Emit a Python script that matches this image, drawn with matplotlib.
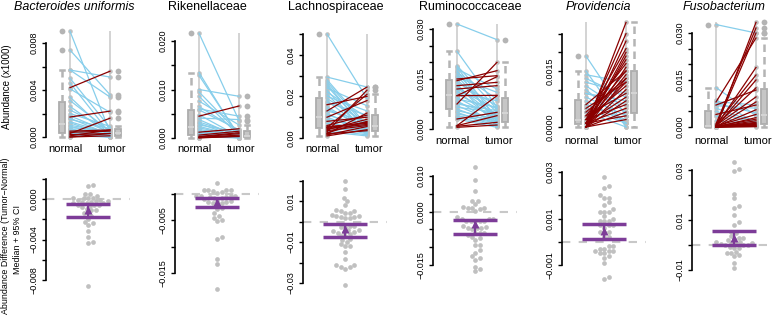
import numpy as np
import matplotlib
matplotlib.use('Agg')
import matplotlib.pyplot as plt

plt.rcParams['font.family'] = ['Liberation Sans', 'DejaVu Sans']

W, H = 774, 317

titles = ['Bacteroides uniformis', 'Rikenellaceae', 'Lachnospiraceae',
          'Ruminococcaceae', 'Providencia', 'Fusobacterium']
title_italic = [True, False, False, False, True, True]

# paired relative abundances, same patient at the same index
bu_normal = [0.0090, 0.0074, 0.0057, 0.0057, 0.0050, 0.0046, 0.0041, 0.0034, 0.0031, 0.0026,
             0.0023, 0.0020, 0.0018, 0.0016, 0.0015, 0.0013, 0.0012, 0.0010, 0.0009, 0.0008,
             0.0007, 0.0006, 0.0005, 0.0004, 0.0003, 0.0003, 0.0002, 0.0002, 0.0001,
             0.0042, 0.0017, 0.0003, 0.0005, 0.0001, 0.0000, 0.0002, 0.0000, 0.0004]
bu_tumor = [0.0004, 0.0036, 0.0034, 0.0051, 0.0008, 0.0003, 0.0021, 0.0002, 0.0005, 0.0002,
            0.0006, 0.0009, 0.0004, 0.0002, 0.0007, 0.0003, 0.0001, 0.0004, 0.0002, 0.0005,
            0.0001, 0.0002, 0.0001, 0.0000, 0.0001, 0.0000, 0.0001, 0.0000, 0.0000,
            0.0056, 0.0022, 0.0016, 0.0006, 0.0006, 0.0003, 0.0003, 0.0001, 0.0005]

rik_normal = [0.0216, 0.0135, 0.0129, 0.0100, 0.0095, 0.0086, 0.0076, 0.0065, 0.0060, 0.0058,
              0.0048, 0.0041, 0.0038, 0.0033, 0.0030, 0.0027, 0.0024, 0.0021, 0.0018, 0.0015,
              0.0013, 0.0011, 0.0009, 0.0008, 0.0006, 0.0005, 0.0004, 0.0003,
              0.0045, 0.0012, 0.0006, 0.0003, 0.0002, 0.0001, 0.0000, 0.0001]
rik_tumor = [0.0036, 0.0002, 0.0005, 0.0086, 0.0010, 0.0005, 0.0027, 0.0014, 0.0045, 0.0017,
             0.0003, 0.0038, 0.0002, 0.0006, 0.0001, 0.0012, 0.0003, 0.0004, 0.0001, 0.0002,
             0.0007, 0.0001, 0.0002, 0.0000, 0.0001, 0.0002, 0.0001, 0.0000,
             0.0066, 0.0019, 0.0014, 0.0011, 0.0009, 0.0006, 0.0004, 0.0003]

lach_normal = [0.0500, 0.0293, 0.0280, 0.0270, 0.0260, 0.0250, 0.0240, 0.0230, 0.0220, 0.0210,
               0.0200, 0.0190, 0.0180, 0.0170, 0.0150, 0.0140, 0.0130, 0.0120, 0.0110, 0.0100,
               0.0090, 0.0080, 0.0070, 0.0060, 0.0050, 0.0040, 0.0030,
               0.0030, 0.0050, 0.0130, 0.0100, 0.0160, 0.0020, 0.0060, 0.0040, 0.0025, 0.0050,
               0.0035, 0.0015, 0.0010, 0.0045, 0.0020, 0.0080, 0.0055]
lach_tumor = [0.0190, 0.0245, 0.0060, 0.0050, 0.0030, 0.0040, 0.0155, 0.0020, 0.0100, 0.0025,
              0.0130, 0.0070, 0.0030, 0.0110, 0.0040, 0.0050, 0.0080, 0.0020, 0.0060, 0.0030,
              0.0050, 0.0025, 0.0045, 0.0020, 0.0030, 0.0015, 0.0010,
              0.0230, 0.0210, 0.0245, 0.0180, 0.0200, 0.0120, 0.0110, 0.0090, 0.0080, 0.0075,
              0.0060, 0.0055, 0.0040, 0.0065, 0.0035, 0.0100, 0.0070]

rum_normal = [0.0315, 0.0233, 0.0190, 0.0185, 0.0180, 0.0175, 0.0170, 0.0165, 0.0160, 0.0155,
              0.0148, 0.0140, 0.0135, 0.0128, 0.0120, 0.0115, 0.0110, 0.0105, 0.0095, 0.0090,
              0.0085, 0.0080, 0.0075, 0.0070, 0.0065, 0.0060, 0.0055, 0.0050, 0.0045, 0.0040,
              0.0035, 0.0030,
              0.0075, 0.0010, 0.0100, 0.0150, 0.0145, 0.0130, 0.0120, 0.0100, 0.0030, 0.0010,
              0.0008, 0.0005]
rum_tumor = [0.0268, 0.0066, 0.0060, 0.0030, 0.0120, 0.0015, 0.0090, 0.0050, 0.0025, 0.0110,
             0.0040, 0.0070, 0.0010, 0.0035, 0.0060, 0.0020, 0.0085, 0.0045, 0.0030, 0.0065,
             0.0012, 0.0040, 0.0055, 0.0020, 0.0050, 0.0015, 0.0030, 0.0008, 0.0025, 0.0018,
             0.0010, 0.0005,
             0.0200, 0.0100, 0.0157, 0.0160, 0.0175, 0.0140, 0.0130, 0.0101, 0.0050, 0.0040,
             0.0020, 0.0012]

prov_normal = [0.0000, 0.0000, 0.0002, 0.0000, 0.0001, 0.0003, 0.0000, 0.0002, 0.0001, 0.0000,
               0.0004, 0.0001, 0.0002, 0.0000, 0.0003, 0.0001, 0.0000, 0.0002, 0.0001, 0.0000,
               0.0001, 0.0000, 0.0005, 0.0006, 0.0001, 0.0000,
               0.0019, 0.0015, 0.0014, 0.0013, 0.0011, 0.0010, 0.0009, 0.0008, 0.0007, 0.0006,
               0.0005, 0.0004, 0.0012, 0.0009]
prov_tumor = [0.0028, 0.0023, 0.0021, 0.0019, 0.0018, 0.0017, 0.0016, 0.0015, 0.0014, 0.0013,
              0.0013, 0.0012, 0.0011, 0.0010, 0.0009, 0.0008, 0.0007, 0.0006, 0.0005, 0.0004,
              0.0003, 0.0002, 0.0012, 0.0015, 0.0025, 0.0020,
              0.0003, 0.0000, 0.0012, 0.0008, 0.0004, 0.0001, 0.0006, 0.0003, 0.0001, 0.0002,
              0.0001, 0.0000, 0.0009, 0.0007]

fuso_normal = [0.0327, 0.0126, 0.0086, 0.0075, 0.0068, 0.0060, 0.0050, 0.0035, 0.0020, 0.0081,
               0.0000, 0.0010, 0.0002, 0.0080, 0.0008, 0.0001, 0.0070, 0.0005, 0.0000, 0.0040,
               0.0001, 0.0003, 0.0000, 0.0002, 0.0000, 0.0001, 0.0000, 0.0002, 0.0000, 0.0001,
               0.0000, 0.0001, 0.0000, 0.0000, 0.0005, 0.0003]
fuso_tumor = [0.0300, 0.0036, 0.0013, 0.0045, 0.0060, 0.0015, 0.0010, 0.0005, 0.0010, 0.0070,
              0.0334, 0.0316, 0.0300, 0.0284, 0.0166, 0.0150, 0.0118, 0.0096, 0.0080, 0.0070,
              0.0055, 0.0040, 0.0030, 0.0025, 0.0020, 0.0015, 0.0012, 0.0010, 0.0008, 0.0006,
              0.0004, 0.0003, 0.0002, 0.0001, 0.0125, 0.0190]

normals = [bu_normal, rik_normal, lach_normal, rum_normal, prov_normal, fuso_normal]
tumors = [bu_tumor, rik_tumor, lach_tumor, rum_tumor, prov_tumor, fuso_tumor]

# median and 95% CI of the tumor-normal differences
diff_median = [-0.0011, -0.0016, -0.0037, -0.0036, 0.00045, 0.0027]
diff_ci_low = [-0.0018, -0.0025, -0.0078, -0.0063, 0.0001, 0.0]
diff_ci_high = [-0.0005, -0.0008, -0.0010, -0.0023, 0.00077, 0.0056]

top_ticks = [[0, 0.002, 0.004, 0.006, 0.008],
             [0, 0.005, 0.010, 0.015, 0.020],
             [0, 0.01, 0.02, 0.03, 0.04, 0.05],
             [0, 0.005, 0.010, 0.015, 0.020, 0.025, 0.030],
             [0, 0.0005, 0.0010, 0.0015, 0.0020, 0.0025],
             [0, 0.005, 0.010, 0.015, 0.020, 0.025, 0.030]]
top_labels = [['0.000', '', '0.004', '', '0.008'],
              ['0.000', '', '0.010', '', '0.020'],
              ['0.00', '', '0.02', '', '0.04', ''],
              ['0.000', '', '', '0.015', '', '', '0.030'],
              ['0.0000', '', '', '0.0015', '', ''],
              ['0.000', '', '', '0.015', '', '', '0.030']]
bot_ticks = [[0.002, 0, -0.002, -0.004, -0.006, -0.008],
             [0, -0.005, -0.010, -0.015],
             [0.02, 0.01, 0, -0.01, -0.02, -0.03],
             [0.010, 0.005, 0, -0.005, -0.010, -0.015],
             [0.003, 0.002, 0.001, 0, -0.001],
             [0.03, 0.02, 0.01, 0, -0.01]]
bot_labels = [['', '0.000', '', '\u22120.004', '', '\u22120.008'],
              ['', '\u22120.005', '', '\u22120.015'],
              ['', '0.01', '', '\u22120.01', '', '\u22120.03'],
              ['0.010', '', '0.000', '', '', '\u22120.015'],
              ['0.003', '', '0.001', '', '\u22120.001'],
              ['0.03', '', '0.01', '', '\u22120.01']]

# layout in pixels
spine_x = [46, 175, 303, 433, 562, 692]
title_x = [74, 207, 336, 470, 598, 724]
top_box = [(24, 141)] * 3 + [(17, 133)] * 3
top_map = [((0, 137), (0.008, 43)), ((0, 138), (0.020, 41)), ((0, 138), (0.05, 34)),
           ((0, 129), (0.030, 29)), ((0, 127), (0.0015, 71)), ((0, 127), (0.030, 33))]
bot_box = (158, 294)
bot_map = [((0, 199), (-0.008, 280)), ((0, 194), (-0.015, 273)), ((0.01, 201), (-0.03, 283)),
           ((0.010, 176), (-0.015, 265)), ((0.003, 172), (-0.001, 265)), ((0.03, 170), (-0.01, 270))]
PW = 84

BLUE = '#87CEEB'
RED = '#8B0000'
GREY = '#C0C0C0'
PURPLE = '#7D3C98'

fig = plt.figure(figsize=(W / 100, H / 100), dpi=100)


def add_ax(x0, top, bottom):
    return fig.add_axes([x0 / W, 1 - bottom / H, PW / W, (bottom - top) / H])


def lims(mapping, top, bottom):
    (v1, p1), (v2, p2) = mapping
    k = (v2 - v1) / (p2 - p1)
    return v1 + (bottom - p1) * k, v1 + (top - p1) * k, abs(1 / k)


def style_left(ax, ticks, labels):
    for s in ['top', 'right', 'bottom']:
        ax.spines[s].set_visible(False)
    ax.spines['left'].set_linewidth(1.2)
    ax.spines['left'].set_bounds(min(ticks), max(ticks))
    ax.set_yticks(ticks)
    ax.set_yticklabels(labels, rotation=90, va='center', fontsize=6.5)
    ax.tick_params(axis='y', length=3, width=1, pad=2.5)


def swarm(vals, px_per_val, dot=4.2, px_per_x=PW / 2):
    order = np.argsort(vals)
    placed = []
    xs = np.zeros(len(vals))
    for i in order:
        y = vals[i] * px_per_val
        for k in range(60):
            off = ((k + 1) // 2) * (1 if k % 2 else -1) * 1.5
            if all((off - px) ** 2 + (y - py) ** 2 >= dot ** 2 for px, py in placed):
                break
        placed.append((off, y))
        xs[i] = off / px_per_x
    return xs


for i in range(6):
    nrm = np.array(normals[i])
    tum = np.array(tumors[i])

    # ---- top: paired abundances
    t, b = top_box[i]
    ax = add_ax(spine_x[i], t, b)
    y0, y1, _ = lims(top_map[i], t, b)
    ax.set_ylim(y0, y1)
    ax.set_xlim(0.4, 2.5)
    lo, hi = min(nrm.min(), tum.min()), max(nrm.max(), tum.max())
    ax.vlines([1, 2], lo, hi, color='#D3D3D3', lw=1.4, zorder=1)
    ax.boxplot([nrm, tum], positions=[0.8, 2.2], widths=0.17, patch_artist=True,
               manage_ticks=False, capwidths=0.12,
               boxprops=dict(facecolor='#C6C6C6', edgecolor='#ADADAD', linewidth=1.3),
               medianprops=dict(color='#D6D6D6', linewidth=1.3),
               whiskerprops=dict(color='#B4B4B4', linewidth=1.8, linestyle=(0, (3, 2))),
               capprops=dict(color='#B4B4B4', linewidth=1.8),
               flierprops=dict(marker='o', markerfacecolor='#B4B4B4', markeredgecolor='none',
                               markersize=4.2), zorder=2)
    ax.plot(np.ones(len(nrm)), nrm, 'o', color=GREY, ms=3.3, mec='none', zorder=2)
    ax.plot(np.full(len(tum), 2.0), tum, 'o', color=GREY, ms=3.3, mec='none', zorder=2)
    down = tum < nrm
    for n_, t_ in zip(nrm[down], tum[down]):
        ax.plot([1, 2], [n_, t_], color=BLUE, lw=0.9, zorder=3)
    for n_, t_ in zip(nrm[~down], tum[~down]):
        ax.plot([1, 2], [n_, t_], color=RED, lw=0.9, zorder=4)
    style_left(ax, top_ticks[i], top_labels[i])
    ax.set_xticks([0.88, 2.05])
    ax.set_xticklabels(['normal', 'tumor'], fontsize=8)
    ax.tick_params(axis='x', length=0, pad=2)

    fig.text(title_x[i] / W, 1 - 10 / H, titles[i], ha='center', va='baseline', fontsize=9,
             style='italic' if title_italic[i] else 'normal')

    # ---- bottom: differences with median and CI
    t, b = bot_box
    bx = add_ax(spine_x[i], t, b)
    y0, y1, ppv = lims(bot_map[i], t, b)
    bx.set_ylim(y0, y1)
    bx.set_xlim(-1, 1)
    diff = tum - nrm
    bx.axhline(0, color='#C8C8C8', lw=1.5, ls=(0, (4, 4)), zorder=1)
    bx.plot(swarm(diff, ppv), diff, 'o', color=GREY, ms=3.4, mec='none', zorder=2)
    bx.hlines([diff_ci_low[i], diff_ci_high[i]], -0.52, 0.52, color=PURPLE, lw=2.5, zorder=3)
    bx.vlines(0, diff_ci_low[i], diff_ci_high[i], color=PURPLE, lw=1.6, zorder=3)
    bx.plot([0], [diff_median[i]], '^', color=PURPLE, ms=6, mec='none', zorder=4)
    style_left(bx, bot_ticks[i], bot_labels[i])
    bx.set_xticks([])

fig.text(7 / W, 1 - 87 / H, 'Abundance (x1000)', rotation=90, ha='center', va='center',
         fontsize=7)
fig.text(6 / W, 1 - 236 / H, 'Abundance Difference (Tumor\u2212Normal)', rotation=90,
         ha='center', va='center', fontsize=6.4)
fig.text(18 / W, 1 - 240 / H, 'Median + 95% CI', rotation=90, ha='center', va='center',
         fontsize=6.4)

fig.savefig('out.png', dpi=100)
